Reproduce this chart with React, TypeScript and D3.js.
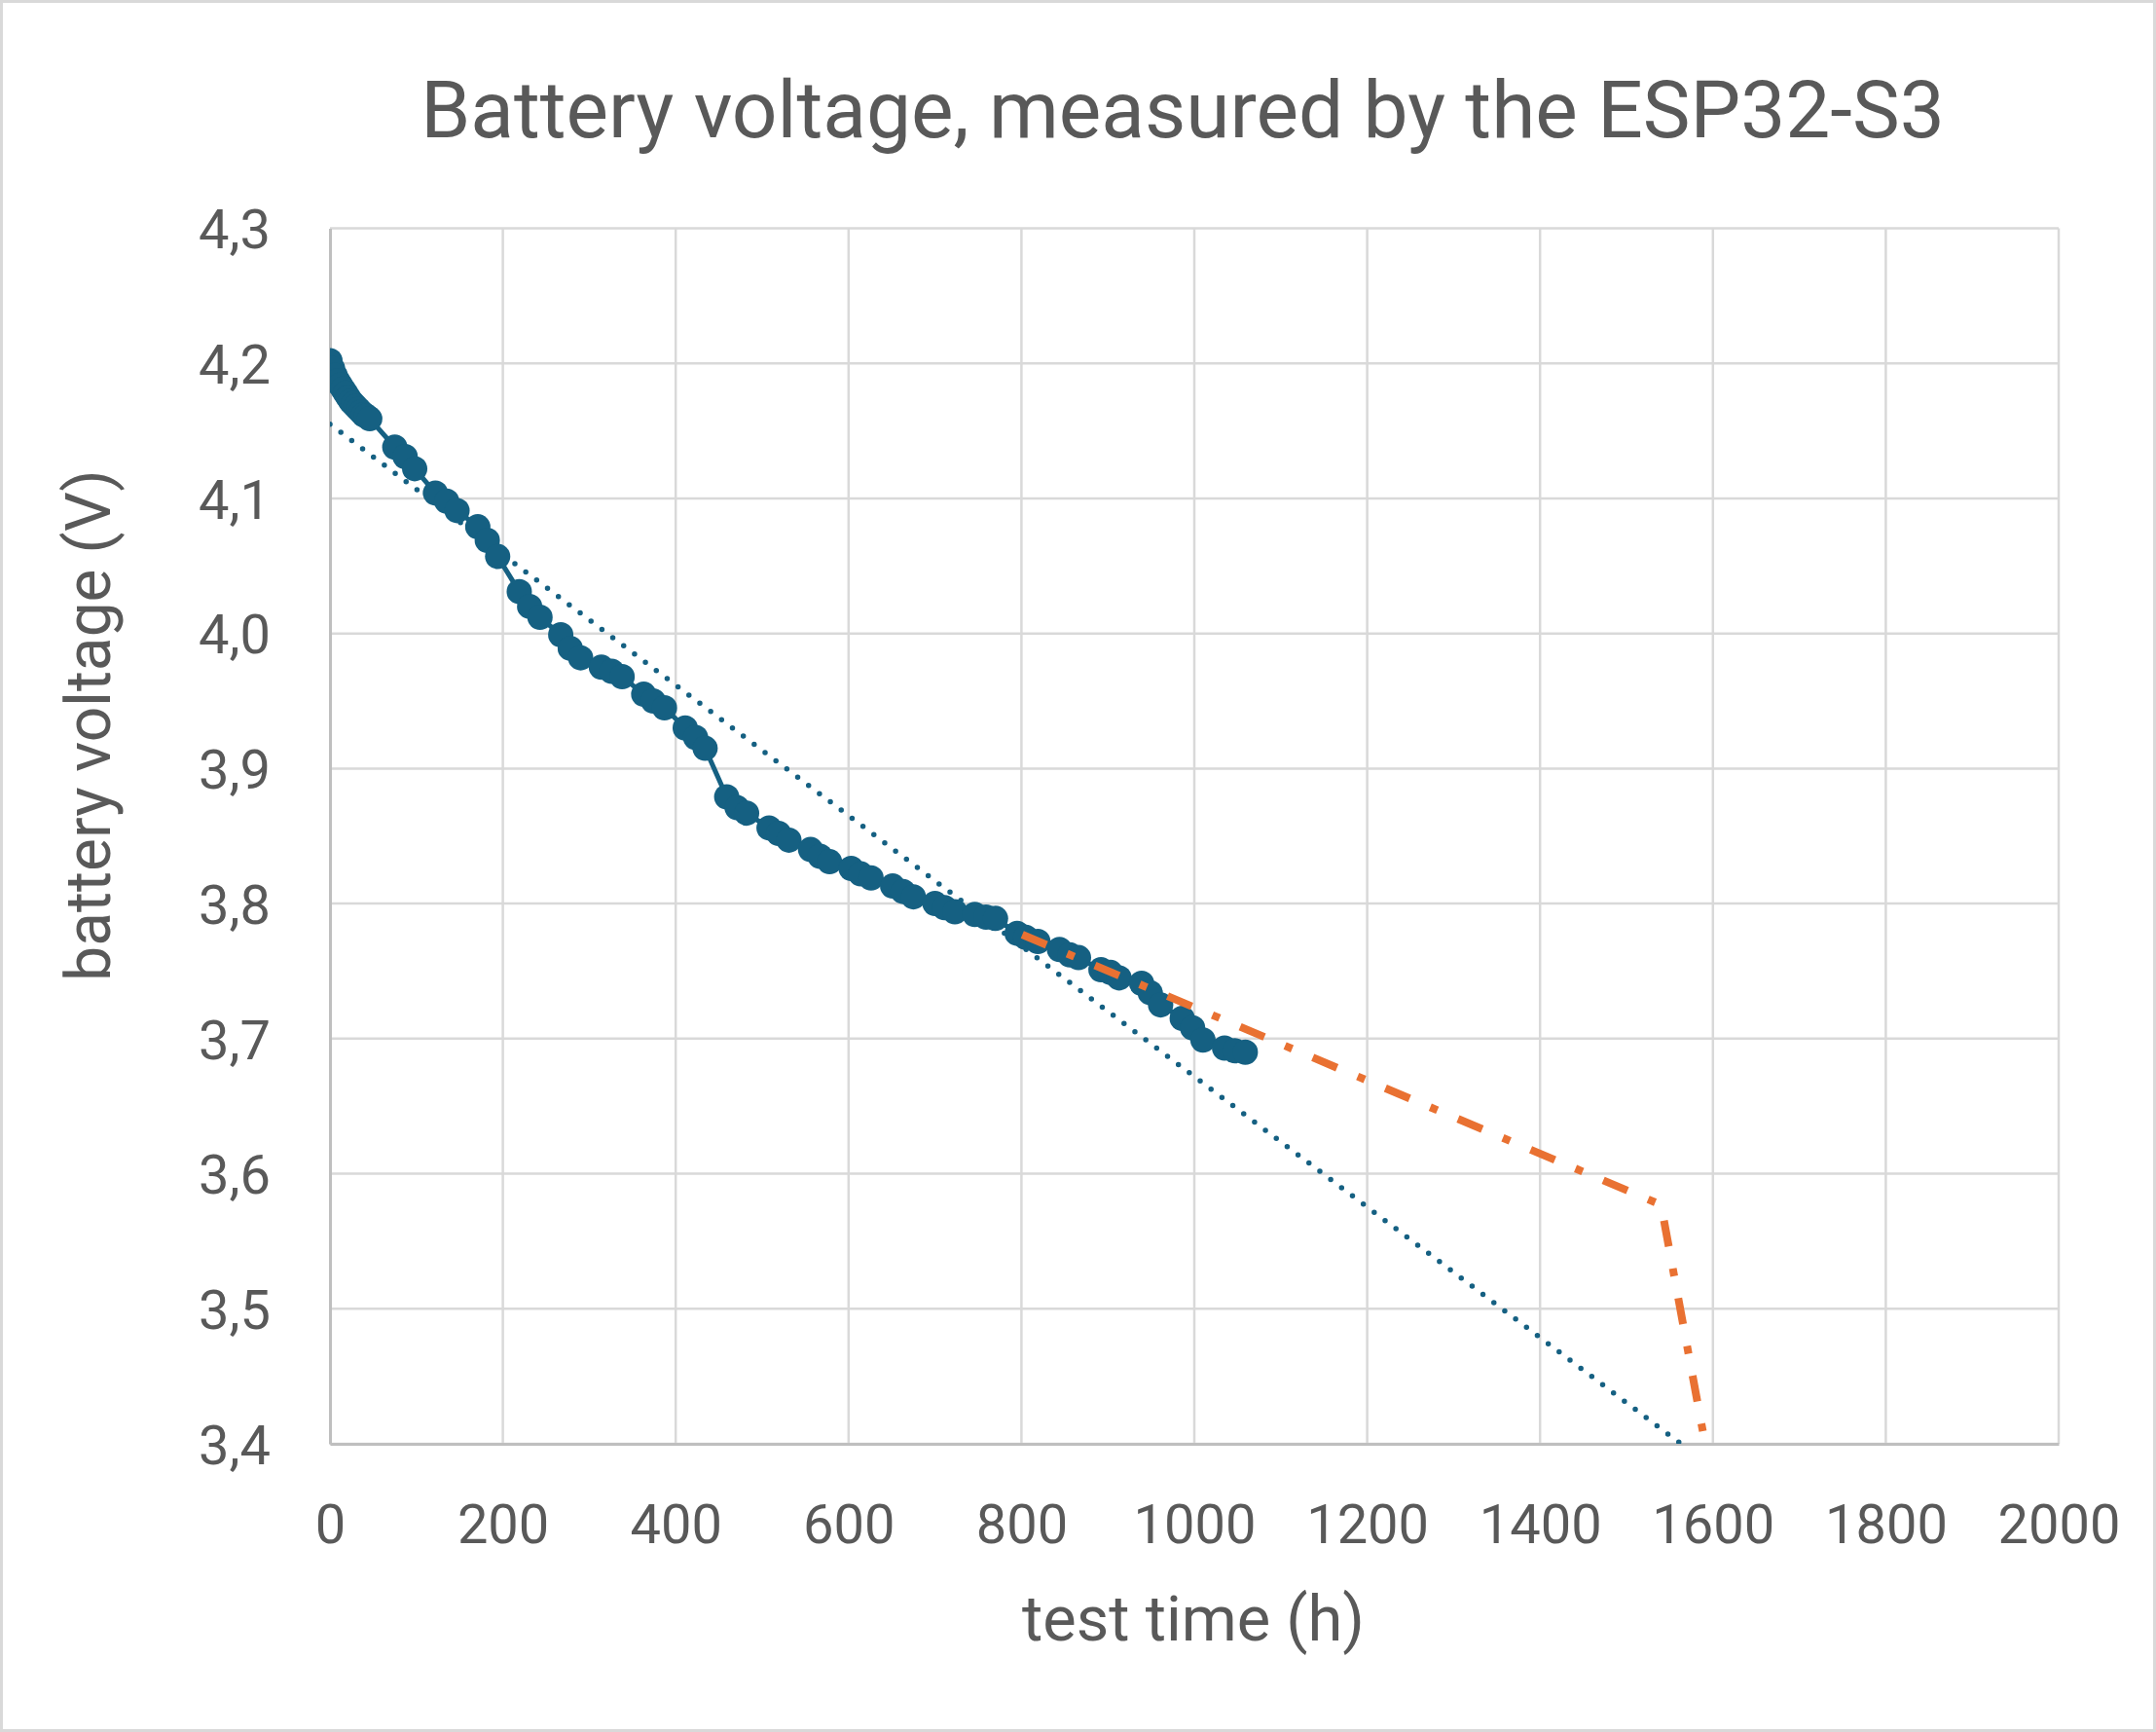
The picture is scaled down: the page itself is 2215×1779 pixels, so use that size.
import React, { useEffect, useRef } from 'react';
import * as d3 from 'd3';

// measured battery voltage (blue series, with markers)
const hours = [
  0, 3, 6, 9, 12, 15, 18, 21, 24, 27, 30, 33, 36, 39, 42, 46,
  75, 87, 98, 122, 135, 147, 171, 182, 194, 219, 231, 243,
  267, 278, 290, 314, 326, 338, 363, 374, 387, 411, 423, 434,
  459, 471, 482, 508, 519, 531, 556, 567, 578, 603, 614, 626,
  651, 663, 675, 700, 711, 723, 746, 759, 770, 795, 805, 819,
  844, 856, 866, 892, 903, 913, 939, 949, 961, 986, 998, 1010,
  1035, 1047, 1059,
];
const volts = [
  4.202, 4.196, 4.191, 4.187, 4.184, 4.181, 4.178, 4.175, 4.172, 4.170, 4.168, 4.166, 4.164, 4.162, 4.161, 4.159,
  4.138, 4.131, 4.122, 4.104, 4.098, 4.091, 4.079, 4.069, 4.057, 4.031, 4.020, 4.012,
  3.999, 3.989, 3.982, 3.975, 3.972, 3.968, 3.955, 3.950, 3.945, 3.930, 3.923, 3.915,
  3.879, 3.871, 3.867, 3.856, 3.852, 3.847, 3.840, 3.835, 3.831, 3.826, 3.822, 3.819,
  3.813, 3.809, 3.805, 3.800, 3.797, 3.794, 3.792, 3.790, 3.789, 3.778, 3.775, 3.772,
  3.766, 3.762, 3.760, 3.751, 3.749, 3.745, 3.741, 3.734, 3.725, 3.715, 3.708, 3.699,
  3.693, 3.691, 3.690,
];

// projection (orange dash-dot)
const projHours = [801, 1540, 1591];
const projVolts = [3.777, 3.577, 3.4];

// linear trendline (blue dotted)
const trendHours = [0, 1563];
const trendVolts = [4.155, 3.4];

const xTicks = [0, 200, 400, 600, 800, 1000, 1200, 1400, 1600, 1800, 2000];
const yTicks = [3.4, 3.5, 3.6, 3.7, 3.8, 3.9, 4.0, 4.1, 4.2, 4.3];

const title = 'Battery voltage, measured by the ESP32-S3';
const xTitle = 'test time (h)';
const yTitle = 'battery voltage (V)';

const W = 2215;
const H = 1779;
const FONT = 'Roboto, "Noto Sans", sans-serif';
const TEXT = '#595959';
const BLUE = '#156082';
const ORANGE = '#E97132';

const App = () => {
  const ref = useRef<SVGSVGElement | null>(null);

  useEffect(() => {
    document.body.style.margin = '0';
    const svg = d3.select(ref.current);
    svg.selectAll('*').remove();

    const margin = { top: 234.5, right: 100, bottom: 296, left: 339 };
    const plotW = W - margin.left - margin.right;
    const plotH = H - margin.top - margin.bottom;

    const x = d3.scaleLinear().domain([0, 2000]).range([0, plotW]);
    const y = d3.scaleLinear().domain([3.4, 4.3]).range([plotH, 0]);
    const fmt = (v: number) => d3.format('.1f')(v).replace('.', ',');

    // background + outer border
    svg.append('rect')
      .attr('x', 1.5).attr('y', 1.5)
      .attr('width', W - 3).attr('height', H - 3)
      .attr('fill', '#ffffff')
      .attr('stroke', '#d9d9d9')
      .attr('stroke-width', 3);

    // Title
    svg.append('text')
      .attr('x', 1215)
      .attr('y', 141)
      .attr('text-anchor', 'middle')
      .attr('fill', TEXT)
      .style('font-family', FONT)
      .style('font-size', '82px')
      .text(title);

    const chart = svg.append('g')
      .attr('transform', `translate(${margin.left}, ${margin.top})`);

    chart.append('defs').append('clipPath')
      .attr('id', 'plot-clip')
      .append('rect')
      .attr('width', plotW)
      .attr('height', plotH);

    // Gridlines
    chart.append('g')
      .selectAll('line')
      .data(yTicks)
      .enter()
      .append('line')
      .attr('x1', 0).attr('x2', plotW)
      .attr('y1', d => y(d)).attr('y2', d => y(d))
      .attr('stroke', '#d9d9d9')
      .attr('stroke-width', 2.5);

    chart.append('g')
      .selectAll('line')
      .data(xTicks.slice(1))
      .enter()
      .append('line')
      .attr('x1', d => x(d)).attr('x2', d => x(d))
      .attr('y1', 0).attr('y2', plotH)
      .attr('stroke', '#d9d9d9')
      .attr('stroke-width', 2.5);

    // X axis
    const xAxis = chart.append('g')
      .attr('transform', `translate(0, ${plotH})`)
      .call(d3.axisBottom(x).tickValues(xTicks).tickSize(0).tickPadding(0).tickFormat(d => `${d}`));
    xAxis.select('.domain').attr('stroke', '#bfbfbf').attr('stroke-width', 3);
    xAxis.selectAll('text')
      .attr('y', 102)
      .attr('dy', 0)
      .attr('fill', TEXT)
      .style('font-family', FONT)
      .style('font-size', '56px');

    // Y axis
    const yAxis = chart.append('g')
      .call(d3.axisLeft(y).tickValues(yTicks).tickSize(0).tickPadding(0).tickFormat(d => fmt(d as number)));
    yAxis.select('.domain').attr('stroke', '#bfbfbf').attr('stroke-width', 3);
    yAxis.selectAll('text')
      .attr('x', -61)
      .attr('dy', '0.36em')
      .attr('fill', TEXT)
      .style('font-family', FONT)
      .style('font-size', '56px');

    const plot = chart.append('g').attr('clip-path', 'url(#plot-clip)');

    // Trendline
    const trend = trendHours.map((h, i) => [h, trendVolts[i]] as [number, number]);
    plot.append('path')
      .datum(trend)
      .attr('fill', 'none')
      .attr('stroke', BLUE)
      .attr('stroke-width', 5.5)
      .attr('stroke-linecap', 'round')
      .attr('stroke-dasharray', '0 14')
      .attr('d', d3.line().x(d => x(d[0])).y(d => y(d[1])));

    // Measured series line
    const data = hours.map((h, i) => [h, volts[i]] as [number, number]);
    plot.append('path')
      .datum(data)
      .attr('fill', 'none')
      .attr('stroke', BLUE)
      .attr('stroke-width', 5)
      .attr('stroke-linejoin', 'round')
      .attr('d', d3.line().x(d => x(d[0])).y(d => y(d[1])));

    // Markers
    plot.selectAll('.dot')
      .data(data)
      .enter()
      .append('circle')
      .attr('class', 'dot')
      .attr('cx', d => x(d[0]))
      .attr('cy', d => y(d[1]))
      .attr('r', 13)
      .attr('fill', BLUE);

    // Projection
    const proj = projHours.map((h, i) => [h, projVolts[i]] as [number, number]);
    plot.append('path')
      .datum(proj)
      .attr('fill', 'none')
      .attr('stroke', ORANGE)
      .attr('stroke-width', 8)
      .attr('stroke-dasharray', '27 23 8 23')
      .attr('d', d3.line().x(d => x(d[0])).y(d => y(d[1])));

    // X axis title
    svg.append('text')
      .attr('x', 1226)
      .attr('y', 1685)
      .attr('text-anchor', 'middle')
      .attr('fill', TEXT)
      .style('font-family', FONT)
      .style('font-size', '65px')
      .text(xTitle);

    // Y axis title
    svg.append('text')
      .attr('transform', 'translate(113, 745) rotate(-90)')
      .attr('text-anchor', 'middle')
      .attr('fill', TEXT)
      .style('font-family', FONT)
      .style('font-size', '64px')
      .text(yTitle);
  }, []);

  return (
    <svg
      ref={ref}
      width={W}
      height={H}
      style={{ position: 'absolute', left: 0, top: 0, display: 'block' }}
    />
  );
};

export default App;
